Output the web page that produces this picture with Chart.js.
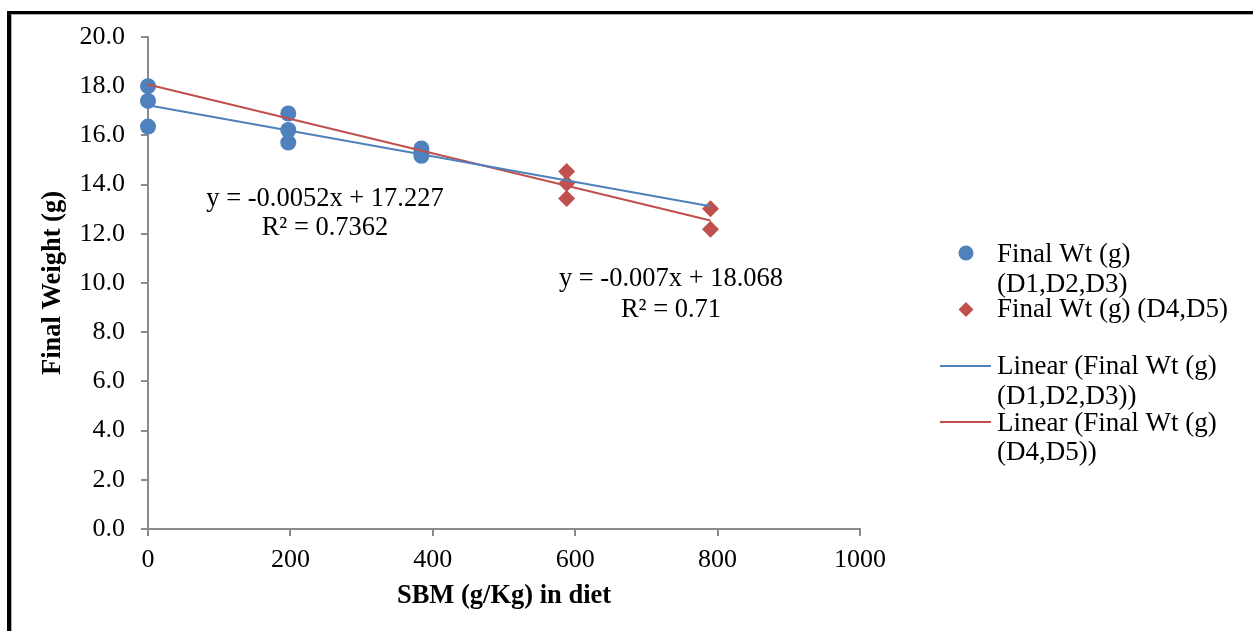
<!DOCTYPE html>
<html>
<head>
<meta charset="utf-8">
<script src="https://cdn.jsdelivr.net/npm/chart.js@4.4.1/dist/chart.umd.min.js"></script>
<style>
  html, body { margin: 0; padding: 0; background: #fff; overflow: hidden; }
  #frame { position: absolute; left: 7px; top: 11px; width: 1300px; height: 700px;
           border-left: 4px solid #000; border-top: 3px solid #000; box-shadow: inset 1px 1px 0 #aaa; }
  #wrap { position: absolute; left: 0; top: 0; width: 1253px; height: 631px; }
</style>
</head>
<body>
<div id="frame"></div>
<div id="wrap"><canvas id="myChart"></canvas></div>
<script>
// data
const sbmGroup1 = [0, 0, 0, 197, 197, 197, 384, 384, 384];
const weightGroup1 = [18.0, 17.4, 16.36, 16.89, 16.22, 15.71, 15.47, 15.3, 15.17];
const sbmGroup2 = [588, 588, 588, 790, 790];
const weightGroup2 = [14.53, 14.04, 13.43, 13.02, 12.18];

// trendlines as printed on the chart
const trendSlope = [-0.0052, -0.007];
const trendIntercept = [17.227, 18.068];
const trendRange = [0, 790];
const trendText = [
  ['y = -0.0052x + 17.227', 'R² = 0.7362'],
  ['y = -0.007x + 18.068', 'R² = 0.71']
];

const legendLabels = [
  ['Final Wt (g)', '(D1,D2,D3)'],
  ['Final Wt (g) (D4,D5)'],
  ['Linear (Final Wt (g)', '(D1,D2,D3))'],
  ['Linear (Final Wt (g)', '(D4,D5))']
];

const blue = '#4F81BD';
const red = '#C0504D';
const axisGrey = '#8a8a8a';
const serif = '"Liberation Serif", "Times New Roman", serif';

function toPoints(xs, ys) {
  return xs.map((x, i) => ({ x: x, y: ys[i] }));
}
function trendPoints(k) {
  return trendRange.map(x => ({ x: x, y: trendIntercept[k] + trendSlope[k] * x }));
}

// equations + legend drawn by hand (multi-line entries like Excel)
const overlay = {
  id: 'overlay',
  afterDraw(chart) {
    const c = chart.ctx;
    c.save();
    c.fillStyle = '#000';
    c.font = '26.5px ' + serif;
    c.textBaseline = 'alphabetic';

    c.textAlign = 'center';
    c.fillText(trendText[0][0], 325, 206);
    c.fillText(trendText[0][1], 325, 235);
    c.fillText(trendText[1][0], 671, 286);
    c.fillText(trendText[1][1], 671, 317);

    c.font = '27px ' + serif;
    c.textAlign = 'left';
    c.fillText(legendLabels[0][0], 997, 262);
    c.fillText(legendLabels[0][1], 997, 292);
    c.fillText(legendLabels[1][0], 997, 317);
    c.fillText(legendLabels[2][0], 997, 374);
    c.fillText(legendLabels[2][1], 997, 404);
    c.fillText(legendLabels[3][0], 997, 431);
    c.fillText(legendLabels[3][1], 997, 460);

    // markers
    c.fillStyle = blue;
    c.beginPath();
    c.arc(966, 253, 7.5, 0, Math.PI * 2);
    c.fill();
    c.fillStyle = red;
    c.beginPath();
    c.moveTo(966, 302); c.lineTo(973.5, 309.5); c.lineTo(966, 317); c.lineTo(958.5, 309.5);
    c.closePath();
    c.fill();
    c.lineWidth = 2;
    c.strokeStyle = blue;
    c.beginPath(); c.moveTo(940, 366); c.lineTo(991, 366); c.stroke();
    c.strokeStyle = red;
    c.beginPath(); c.moveTo(940, 422); c.lineTo(991, 422); c.stroke();
    c.restore();
  }
};

const ctx = document.getElementById('myChart');

const myChart = new Chart(ctx, {
  type: 'scatter',
  data: {
    datasets: [
      {
        label: 'Linear (Final Wt (g) (D1,D2,D3))',
        data: trendPoints(0),
        showLine: true,
        borderColor: blue,
        borderWidth: 2,
        pointRadius: 0,
        clip: false,
        order: 0
      },
      {
        label: 'Linear (Final Wt (g) (D4,D5))',
        data: trendPoints(1),
        showLine: true,
        borderColor: red,
        borderWidth: 2,
        pointRadius: 0,
        clip: false,
        order: 0
      },
      {
        label: 'Final Wt (g) (D1,D2,D3)',
        data: toPoints(sbmGroup1, weightGroup1),
        backgroundColor: blue,
        borderColor: blue,
        pointStyle: 'circle',
        pointRadius: 8,
        borderWidth: 0,
        clip: false,
        order: 1
      },
      {
        label: 'Final Wt (g) (D4,D5)',
        data: toPoints(sbmGroup2, weightGroup2),
        backgroundColor: red,
        borderColor: red,
        pointStyle: 'rectRot',
        pointRadius: 8.5,
        borderWidth: 0,
        clip: false,
        order: 1
      }
    ]
  },
  options: {
    responsive: true,
    maintainAspectRatio: false,
    animation: false,
    layout: { padding: { left: 0, right: 393, top: 37, bottom: 0 } },
    plugins: {
      legend: { display: false },
      tooltip: { enabled: false }
    },
    scales: {
      x: {
        type: 'linear',
        min: 0,
        max: 1000,
        afterFit: function (scale) { scale.height = 102; },
        ticks: {
          stepSize: 200,
          color: '#000',
          padding: 9,
          font: { family: serif, size: 26 },
          callback: v => String(v)
        },
        grid: { display: true, drawOnChartArea: false, drawTicks: true, tickLength: 7, color: axisGrey, lineWidth: 2 },
        border: { color: axisGrey, width: 2 },
        title: {
          display: true,
          text: 'SBM (g/Kg) in diet',
          color: '#000',
          padding: { top: 0, bottom: 19 },
          font: { family: serif, size: 26.5, weight: 'bold' }
        }
      },
      y: {
        min: 0,
        max: 20,
        afterFit: function (scale) { scale.width = 148; },
        ticks: {
          stepSize: 2,
          color: '#000',
          padding: 16,
          font: { family: serif, size: 26 },
          callback: v => v.toFixed(1)
        },
        grid: { display: true, drawOnChartArea: false, drawTicks: true, tickLength: 7, color: axisGrey, lineWidth: 2 },
        border: { color: axisGrey, width: 2 },
        title: {
          display: true,
          text: 'Final Weight (g)',
          color: '#000',
          padding: { top: 37, bottom: 0 },
          font: { family: serif, size: 26.5, weight: 'bold' }
        }
      }
    }
  },
  plugins: [overlay]
});
</script>
</body>
</html>
